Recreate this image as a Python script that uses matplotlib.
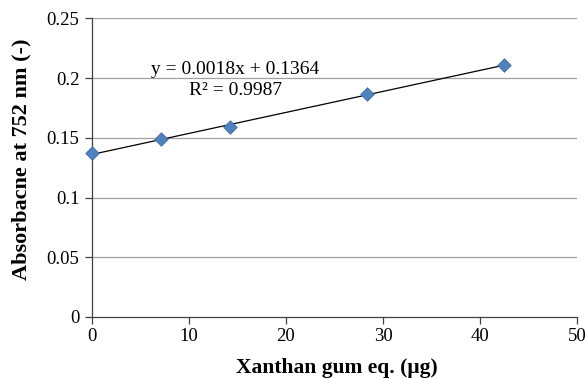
import numpy as np
import matplotlib
matplotlib.use("Agg")
import matplotlib.pyplot as plt

x_vals = [0.0, 7.1, 14.2, 28.4, 42.5]
y_vals = [0.137, 0.149, 0.159, 0.187, 0.211]
x_ticks = [0, 10, 20, 30, 40, 50]
y_ticks = [0, 0.05, 0.1, 0.15, 0.2, 0.25]
y_tick_labels = ["0", "0.05", "0.1", "0.15", "0.2", "0.25"]
eq_text = "y = 0.0018x + 0.1364"
r2_text = "R² = 0.9987"

plt.rcParams['font.family'] = ['Liberation Serif', 'DejaVu Serif']

fig = plt.figure(figsize=(5.86, 3.79), dpi=100)
ax = fig.add_axes([0.157, 0.1636, 0.8276, 0.7876])

for yt in y_ticks[1:]:
    ax.axhline(yt, color='#a0a0a0', lw=0.9, zorder=0)

slope, intercept = np.polyfit(x_vals, y_vals, 1)
xl = np.array([min(x_vals), max(x_vals)])
ax.plot(xl, slope * xl + intercept, color='black', lw=0.9, zorder=2)
ax.scatter(x_vals, y_vals, marker='D', s=48, color='#4f81bd', edgecolor='#3a6aa5', linewidth=0.5, zorder=3, clip_on=False)

ax.set_xlim(0, 50)
ax.set_ylim(0, 0.25)
ax.set_xticks(x_ticks)
ax.set_yticks(y_ticks)
ax.set_yticklabels(y_tick_labels)
ax.tick_params(axis='both', labelsize=13.5, direction='out', length=5, width=0.9, color='#404040')
ax.tick_params(axis='y', pad=4)
ax.tick_params(axis='x', pad=3)
for s in ['top', 'right']:
    ax.spines[s].set_visible(False)
for s in ['left', 'bottom']:
    ax.spines[s].set_color('#404040')
    ax.spines[s].set_linewidth(0.9)

ax.text(14.75, 0.2077, eq_text, ha='center', va='center', fontsize=14)
ax.text(14.85, 0.1900, r2_text, ha='center', va='center', fontsize=14)

ax.set_xlabel("Xanthan gum eq. (μg)", fontsize=15.5, fontweight='bold')
ax.set_ylabel("Absorbacne at 752 nm (-)", fontsize=16, fontweight='bold')
ax.xaxis.set_label_coords(0.505, -0.17)
ax.yaxis.set_label_coords(-0.146, 0.527)
ax.xaxis.label.set_va('center')
ax.yaxis.label.set_va('center')

fig.savefig("out.png", dpi=100)
